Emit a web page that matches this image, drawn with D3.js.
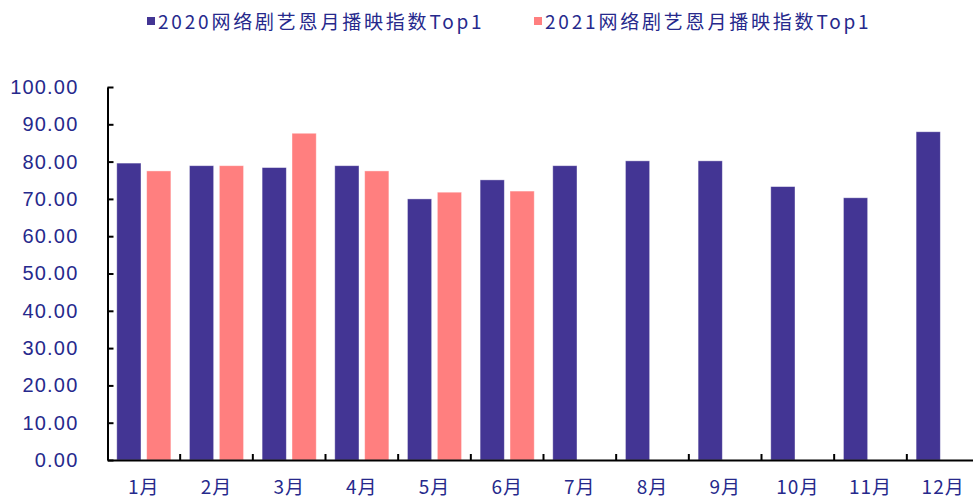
<!DOCTYPE html>
<html>
<head>
<meta charset="utf-8">
<script src="https://cdn.jsdelivr.net/npm/d3@7"></script>
<style>
  body { margin: 0; background: #fff; }
  svg { display: block; }
</style>
</head>
<body>
<svg id="chart" width="973" height="502"></svg>
<script>
// data
var months = ["1月", "2月", "3月", "4月", "5月", "6月", "7月", "8月", "9月", "10月", "11月", "12月"];
var seriesNames = ["2020网络剧艺恩月播映指数Top1", "2021网络剧艺恩月播映指数Top1"];
var values2020 = [79.6, 78.9, 78.4, 78.9, 70.0, 75.1, 78.9, 80.2, 80.2, 73.3, 70.3, 88.0];
var values2021 = [77.5, 78.9, 87.6, 77.5, 71.8, 72.1];
var yTicks = [0, 10, 20, 30, 40, 50, 60, 70, 80, 90, 100];
var colors = ["#433594", "#ff7f7f"];

var svg = d3.select("#chart");
var textColor = "#26298c";

var x0 = d3.scaleBand()
    .domain(months)
    .range([107.5, 979.5])
    .paddingInner(0)
    .paddingOuter(0);

var x1 = d3.scaleBand()
    .domain([0, 1])
    .range([0, x0.bandwidth()])
    .paddingInner(0.19)
    .paddingOuter(0.31);

var y = d3.scaleLinear()
    .domain([0, 100])
    .range([460, 87]);

// rows for the bars
var rows = [];
months.forEach(function (m, i) {
    rows.push({ month: m, s: 0, v: values2020[i] });
    if (i < values2021.length) rows.push({ month: m, s: 1, v: values2021[i] });
});

svg.append("g")
    .selectAll("rect")
    .data(rows)
    .enter()
    .append("rect")
    .attr("x", function (d) { return x0(d.month) + x1(d.s); })
    .attr("y", function (d) { return y(d.v); })
    .attr("width", x1.bandwidth())
    .attr("height", function (d) { return y(0) - y(d.v); })
    .attr("fill", function (d) { return colors[d.s]; })
    .attr("stroke", "#fff")
    .attr("stroke-opacity", 0.5)
    .attr("stroke-width", 0.8);

// y axis, ticks pointing inward
var yAxis = svg.append("g")
    .attr("transform", "translate(107.5,0)")
    .call(d3.axisLeft(y)
        .tickValues(yTicks)
        .tickFormat(d3.format(".2f"))
        .tickSizeInner(-6)
        .tickSizeOuter(0)
        .tickPadding(29));
yAxis.select(".domain").attr("stroke", "#000").attr("stroke-width", 2);
yAxis.selectAll(".tick line").attr("stroke", "#000").attr("stroke-width", 2);
yAxis.selectAll("text")
    .attr("fill", textColor)
    .style("font-family", "'Liberation Sans', Arial, sans-serif")
    .style("font-size", "20px")
    .style("letter-spacing", "1.2px");

// x axis with labels in band centres
var xAxis = svg.append("g")
    .attr("transform", "translate(0,460)")
    .call(d3.axisBottom(x0).tickSize(0).tickPadding(21));
xAxis.select(".domain").attr("stroke", "#000").attr("stroke-width", 2);
xAxis.selectAll("text")
    .attr("fill", textColor)
    .style("font-family", "'Noto Sans CJK SC', sans-serif")
    .style("font-size", "19px")
    .style("letter-spacing", "1px");

// category boundary ticks, pointing up
svg.append("g")
    .selectAll("line")
    .data(months.slice(1))
    .enter()
    .append("line")
    .attr("x1", function (d) { return x0(d); })
    .attr("x2", function (d) { return x0(d); })
    .attr("y1", 460)
    .attr("y2", 454)
    .attr("stroke", "#000")
    .attr("stroke-width", 2);

// legend
var legendX = [147, 534];
var legend = svg.append("g")
    .selectAll("g")
    .data(seriesNames)
    .enter()
    .append("g")
    .attr("transform", function (d, i) { return "translate(" + legendX[i] + ",0)"; });
legend.append("rect")
    .attr("x", 0)
    .attr("y", 17)
    .attr("width", 8)
    .attr("height", 8)
    .attr("fill", function (d, i) { return colors[i]; });
legend.append("text")
    .attr("x", 11)
    .attr("y", 29)
    .attr("fill", textColor)
    .style("font-family", "'Noto Sans CJK SC', sans-serif")
    .style("font-size", "19px")
    .style("letter-spacing", "2.8px")
    .text(function (d) { return d; });
</script>
</body>
</html>
